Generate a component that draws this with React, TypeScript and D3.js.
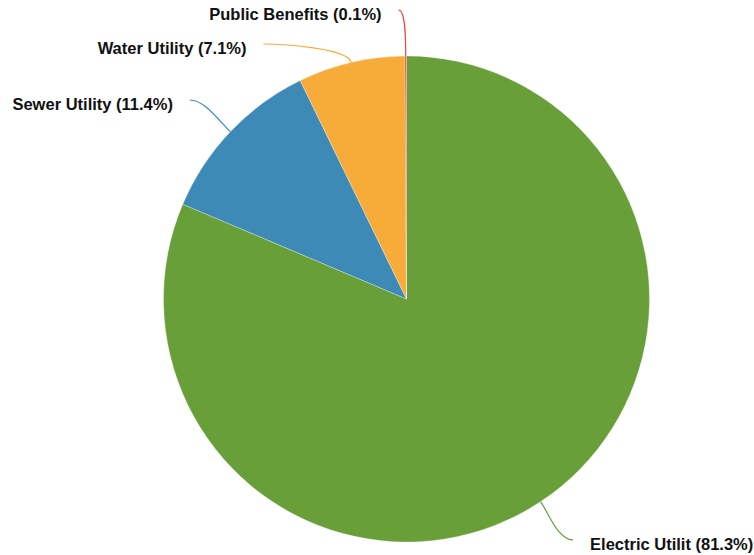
import React from "react";
import * as d3 from "d3";

const categories = ["Electric Utilit", "Sewer Utility", "Water Utility", "Public Benefits"];
const percents = [81.3, 11.4, 7.1, 0.1];
const colors = ["#689f39", "#3d8ab7", "#f7ab38", "#e8453c"];

const W = 754;
const H = 555;
const cx = 406.5;
const cy = 299;
const r = 243;
const R2 = 289;

export default function App() {
  const pie = d3
    .pie<number>()
    .sort(null)
    .value((d) => d);
  const arcs = pie(percents);
  const arcGen = d3.arc<d3.PieArcDatum<number>>().innerRadius(0).outerRadius(r);

  type L = { i: number; x: number; y: number; right: boolean; ex: number; ey: number; kx: number; ky: number };
  const labels: L[] = arcs.map((a, i) => {
    const mid = (a.startAngle + a.endAngle) / 2;
    const s = Math.sin(mid);
    const c = Math.cos(mid);
    return {
      i,
      x: R2 * s,
      y: -R2 * c,
      right: s >= 0,
      ex: r * s,
      ey: -r * c,
      kx: (r + 15) * s,
      ky: -(r + 15) * c,
    };
  });
  const minGap = 34;
  [true, false].forEach((side) => {
    const grp = labels.filter((l) => l.right === side).sort((a, b) => a.y - b.y);
    for (let k = 1; k < grp.length; k++) {
      if (grp[k].y - grp[k - 1].y < minGap) grp[k].y = grp[k - 1].y + minGap;
    }
    grp.forEach((l) => {
      const dx = Math.sqrt(Math.max(0, R2 * R2 - l.y * l.y)) + 7;
      l.x = side ? dx : -dx;
    });
  });

  return (
    <svg width={W} height={H} style={{ position: "absolute", left: 0, top: 0 }}>
      <g transform={`translate(${cx},${cy})`}>
        {arcs.map((a, i) => (
          <path key={i} d={arcGen(a) || ""} fill={colors[i]} stroke="#ffffff" strokeWidth={0.5} strokeOpacity={0.6} />
        ))}
        {labels.map((l) => {
          const c2x = l.right ? Math.max(l.x - 15, l.ex) : Math.min(l.x + 15, l.ex);
          return (
            <g key={l.i}>
              <path
                d={`M${l.ex},${l.ey}C${l.kx},${l.ky} ${c2x},${l.y} ${l.x},${l.y}`}
                fill="none"
                stroke={colors[l.i]}
                strokeWidth={1.2}
              />
              <text
                x={l.right ? l.x + 17 : l.x - 17}
                y={l.y + 10}
                textAnchor={l.right ? "start" : "end"}
                fontFamily="'Liberation Sans', Arial, sans-serif"
                fontWeight="bold"
                fontSize={16.5}
                fill="#111"
              >
                {`${categories[l.i]} (${percents[l.i]}%)`}
              </text>
            </g>
          );
        })}
      </g>
    </svg>
  );
}
